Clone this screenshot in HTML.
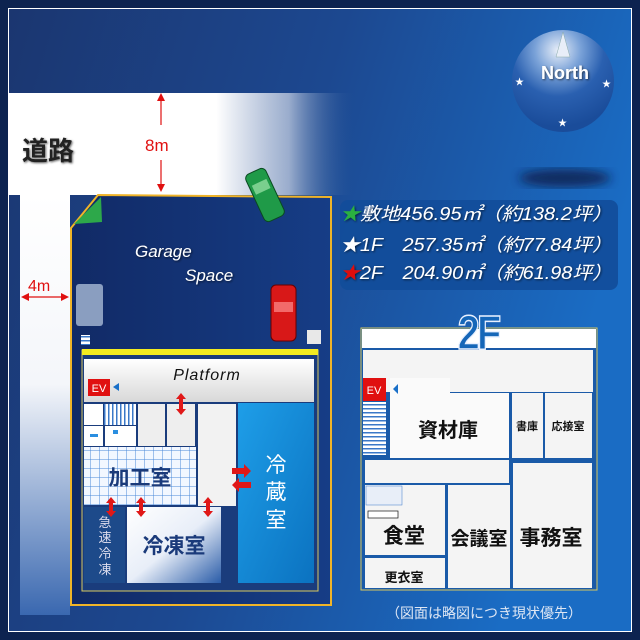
<!DOCTYPE html>
<html><head><meta charset="utf-8"><style>
html,body{margin:0;padding:0;background:#0d2350;}
svg{display:block}
text{font-family:"Liberation Sans","Noto Sans CJK JP",sans-serif;}
</style></head><body>
<svg width="640" height="640" viewBox="0 0 640 640" xmlns="http://www.w3.org/2000/svg">
<defs>
<linearGradient id="bg" x1="0" y1="0" x2="1" y2="0.3">
<stop offset="0" stop-color="#1b3670"/><stop offset="0.5" stop-color="#1c4890"/><stop offset="1" stop-color="#1a6cc4"/></linearGradient>
<linearGradient id="road" x1="0" y1="0" x2="1" y2="0">
<stop offset="0" stop-color="#fff"/><stop offset="0.37" stop-color="#fff"/><stop offset="0.5" stop-color="#a8b8d4" stop-opacity="0.9"/><stop offset="0.62" stop-color="#1e4c92" stop-opacity="0"/></linearGradient>
<linearGradient id="vroad" x1="0" y1="0" x2="0" y2="1">
<stop offset="0" stop-color="#fff"/><stop offset="0.45" stop-color="#f4f6fa"/><stop offset="1" stop-color="#3a68b0"/></linearGradient>
<linearGradient id="lot" x1="0" y1="0" x2="1" y2="0">
<stop offset="0" stop-color="#112a66"/><stop offset="1" stop-color="#163d86"/></linearGradient>
<radialGradient id="north" cx="0.45" cy="0.2" r="0.75">
<stop offset="0" stop-color="#e8eef8"/><stop offset="0.3" stop-color="#7aa2d8"/><stop offset="0.6" stop-color="#2a60b0"/><stop offset="1" stop-color="#1a4c9a"/></radialGradient>
<linearGradient id="plat" x1="0" y1="0" x2="0" y2="1"><stop offset="0" stop-color="#fff"/><stop offset="1" stop-color="#d8d8d8"/></linearGradient>
<linearGradient id="cold" x1="0" y1="0" x2="1" y2="1"><stop offset="0" stop-color="#1e9ee8"/><stop offset="1" stop-color="#0b72c0"/></linearGradient>
<linearGradient id="frz" x1="0" y1="0" x2="1" y2="1"><stop offset="0" stop-color="#fff"/><stop offset="0.5" stop-color="#e8eef8"/><stop offset="1" stop-color="#2a5ca8"/></linearGradient>
<pattern id="grid" width="9" height="9" patternUnits="userSpaceOnUse"><rect width="9" height="9" fill="#f2f7ff"/><path d="M0 0H9M0 0V9" stroke="#4a88d8" stroke-width="1"/></pattern>
<pattern id="stair" width="4" height="4" patternUnits="userSpaceOnUse"><rect width="4" height="4" fill="#fff"/><rect width="1.5" height="4" fill="#3a78c8"/></pattern>
<pattern id="stairh" width="4" height="4" patternUnits="userSpaceOnUse"><rect width="4" height="4" fill="#fff"/><rect width="4" height="1.5" fill="#3a78c8"/></pattern>
<filter id="sh"><feDropShadow dx="1" dy="1" stdDeviation="1" flood-color="#000" flood-opacity="0.6"/></filter>
<filter id="blur"><feGaussianBlur stdDeviation="5"/></filter>
</defs>
<rect width="640" height="640" fill="#0d2350"/>
<rect x="8" y="8" width="624" height="624" fill="#fff"/>
<rect x="9" y="9" width="622" height="622" fill="url(#bg)"/>
<rect x="9" y="93" width="560" height="102" fill="url(#road)"/>
<rect x="20" y="195" width="50" height="420" fill="url(#vroad)"/>
<text x="22" y="160" font-size="26" fill="#222" font-weight="bold" filter="url(#sh)">道路</text>
<line x1="161" y1="95" x2="161" y2="125" stroke="#e01010" stroke-width="1.2"/>
<line x1="161" y1="160" x2="161" y2="190" stroke="#e01010" stroke-width="1.2"/>
<path d="M157 101L161 93L165 101Z M157 184L161 192L165 184Z" fill="#e01010"/>
<text x="145" y="151" font-size="17" fill="#e01010">8m</text>
<line x1="23" y1="297" x2="67" y2="297" stroke="#e01010" stroke-width="1.2"/>
<path d="M29 293L21 297L29 301Z M61 293L69 297L61 301Z" fill="#e01010"/>
<text x="28" y="291" font-size="16" fill="#e01010">4m</text>
<path d="M71 228L98 195L331 197L331 605L71 605Z" fill="url(#lot)" stroke="#f0b428" stroke-width="2"/>
<path d="M74 224L101 197L102 222Z" fill="#2da84a"/>
<rect x="76" y="284" width="27" height="42" rx="3" fill="#8a9ec0"/>
<text x="135" y="257" font-size="17" font-style="italic" fill="#fff" filter="url(#sh)">Garage</text>
<text x="185" y="281" font-size="17" font-style="italic" fill="#fff" filter="url(#sh)">Space</text>
<g transform="translate(265 195) rotate(-25)"><rect x="-11" y="-26" width="22" height="52" rx="5" fill="#1f9a48" stroke="#0a4a20"/><rect x="-8" y="-14" width="16" height="10" fill="#7acf8e"/></g>
<g><rect x="271" y="285" width="25" height="56" rx="5" fill="#d81818" stroke="#600"/><rect x="274" y="302" width="19" height="10" fill="#f26a6a"/></g>
<rect x="307" y="330" width="14" height="14" fill="#e8e8e8"/>
<rect x="81" y="335" width="9" height="10" fill="url(#stairh)"/>
<rect x="82" y="350" width="236" height="241" fill="#1a3c7c" stroke="#d8c860" stroke-width="1"/>
<rect x="82" y="349" width="236" height="6" fill="#f4ec20"/>
<rect x="84" y="359" width="230" height="43" fill="url(#plat)"/>
<text x="207" y="380" font-size="16" font-style="italic" fill="#111" text-anchor="middle" letter-spacing="1">Platform</text>
<rect x="88" y="379" width="22" height="17" fill="#e01010"/>
<text x="99" y="392" font-size="11" fill="#fff" text-anchor="middle">EV</text>
<path d="M119 383L113 387L119 391Z" fill="#1a70c8"/>
<rect x="84" y="404" width="19" height="21" fill="#fff"/>
<rect x="104" y="404" width="32" height="21" fill="url(#stair)"/>
<rect x="84" y="426" width="19" height="20" fill="#fff"/><rect x="90" y="434" width="8" height="3" fill="#2a8ee0"/>
<rect x="105" y="426" width="31" height="20" fill="#fff"/><rect x="113" y="430" width="5" height="4" fill="#2a8ee0"/>
<rect x="138" y="404" width="27" height="42" fill="#eee"/>
<rect x="167" y="404" width="28" height="42" fill="#eee"/>
<rect x="198" y="404" width="38" height="102" fill="#f2f2f2"/>
<rect x="84" y="447" width="112" height="58" fill="url(#grid)"/>
<text x="140" y="485" font-size="21" font-weight="bold" fill="#1a3a7a" text-anchor="middle">加工室</text>
<rect x="238" y="403" width="76" height="180" fill="url(#cold)"/>
<text x="276" y="472" font-size="21" fill="#fff" text-anchor="middle">冷</text>
<text x="276" y="499" font-size="21" fill="#fff" text-anchor="middle">蔵</text>
<text x="276" y="527" font-size="21" fill="#fff" text-anchor="middle">室</text>
<rect x="84" y="507" width="41" height="76" fill="#1d4a8a"/>
<text x="105" y="527" font-size="13" fill="#dde" text-anchor="middle">急</text>
<text x="105" y="542" font-size="13" fill="#dde" text-anchor="middle">速</text>
<text x="105" y="558" font-size="13" fill="#dde" text-anchor="middle">冷</text>
<text x="105" y="574" font-size="13" fill="#dde" text-anchor="middle">凍</text>
<rect x="127" y="507" width="94" height="76" fill="url(#frz)"/>
<text x="174" y="553" font-size="21" font-weight="bold" fill="#1a3a7a" text-anchor="middle">冷凍室</text>
<g fill="#e01818">
<path d="M181 393l-5 6h3v10h-3l5 6l5-6h-3v-10h3z"/>
<path d="M111 497l-5 6h3v8h-3l5 6l5-6h-3v-8h3z"/>
<path d="M141 497l-5 6h3v8h-3l5 6l5-6h-3v-8h3z"/>
<path d="M208 497l-5 6h3v8h-3l5 6l5-6h-3v-8h3z"/>
<path d="M232 468h12v-4l7 7l-7 7v-4h-12z"/>
<path d="M251 482h-12v-4l-7 7l7 7v-4h12z"/>
</g>
<ellipse cx="565" cy="178" rx="46" ry="9" fill="#0a1e48" opacity="0.8" filter="url(#blur)"/>
<rect x="340" y="200" width="278" height="90" rx="8" fill="#124c9a" opacity="0.9"/>
<g font-size="18" fill="#fff" font-style="italic" filter="url(#sh)">
<text x="340" y="220" textLength="272" lengthAdjust="spacingAndGlyphs"><tspan fill="#2ab040">★</tspan>敷地456.95㎡（約138.2坪）</text>
<text x="340" y="251" textLength="272" lengthAdjust="spacingAndGlyphs"><tspan>★</tspan>1F　257.35㎡（約77.84坪）</text>
<text x="340" y="279" textLength="272" lengthAdjust="spacingAndGlyphs"><tspan fill="#e01010">★</tspan>2F　204.90㎡（約61.98坪）</text>
</g>
<circle cx="563" cy="81" r="51" fill="url(#north)"/>
<path d="M563 32L556 57H570Z" fill="#e8eef8" stroke="#8aa" stroke-width="0.5"/>
<text x="565" y="79" font-size="18" font-weight="bold" fill="#fff" text-anchor="middle" filter="url(#sh)">North</text>
<text x="515" y="85" font-size="9" fill="#fff">★</text><text x="602" y="87" font-size="9" fill="#fff">★</text><text x="558" y="126" font-size="9" fill="#fff">★</text>
<rect x="361" y="328" width="236" height="262" fill="#1a5aa8" stroke="#d8c860"/>
<rect x="362" y="329" width="234" height="19" fill="#fff"/>
<text x="478" y="349" font-size="40" font-weight="bold" fill="#1566b8" stroke="#e8f0ff" stroke-width="1.2" text-anchor="middle" letter-spacing="-3" transform="translate(478 349) scale(1 1.2) translate(-478 -349)">2F</text>
<rect x="363" y="350" width="230" height="42" fill="#f4f4f4"/>
<path d="M390 378H450V393H509V458H390Z" fill="#fafafa"/>
<rect x="363" y="378" width="23" height="23" fill="#e01010"/>
<text x="374" y="394" font-size="11" fill="#fff" text-anchor="middle">EV</text>
<path d="M398 384L393 389L398 394Z" fill="#1a70c8"/>
<rect x="363" y="402" width="23" height="53" fill="url(#stairh)"/>
<text x="448" y="437" font-size="20" font-weight="bold" fill="#111" text-anchor="middle">資材庫</text>
<rect x="512" y="393" width="31" height="65" fill="#f4f4f4"/>
<text x="527" y="430" font-size="11" font-weight="bold" fill="#111" text-anchor="middle">書庫</text>
<rect x="545" y="393" width="47" height="65" fill="#f4f4f4"/>
<text x="568" y="430" font-size="11" font-weight="bold" fill="#111" text-anchor="middle">応接室</text>
<rect x="365" y="460" width="144" height="23" fill="#f4f4f4"/>
<rect x="513" y="463" width="79" height="125" fill="#f4f4f4"/>
<text x="551" y="545" font-size="21" font-weight="bold" fill="#111" text-anchor="middle">事務室</text>
<rect x="365" y="485" width="80" height="70" fill="#f4f4f4"/>
<rect x="366" y="486" width="36" height="19" fill="#e8eef8" stroke="#3a78c8" stroke-width="0.5"/>
<rect x="368" y="511" width="30" height="7" fill="#fff" stroke="#111" stroke-width="0.7"/>
<text x="404" y="543" font-size="21" font-weight="bold" fill="#111" text-anchor="middle">食堂</text>
<rect x="448" y="485" width="62" height="103" fill="#f4f4f4"/>
<text x="479" y="545" font-size="19" font-weight="bold" fill="#111" text-anchor="middle">会議室</text>
<rect x="365" y="558" width="80" height="30" fill="#f4f4f4"/>
<text x="404" y="582" font-size="13" font-weight="bold" fill="#111" text-anchor="middle">更衣室</text>
<text x="484" y="618" font-size="14" fill="#dde6f4" text-anchor="middle">（図面は略図につき現状優先）</text>
</svg>
</body></html>
